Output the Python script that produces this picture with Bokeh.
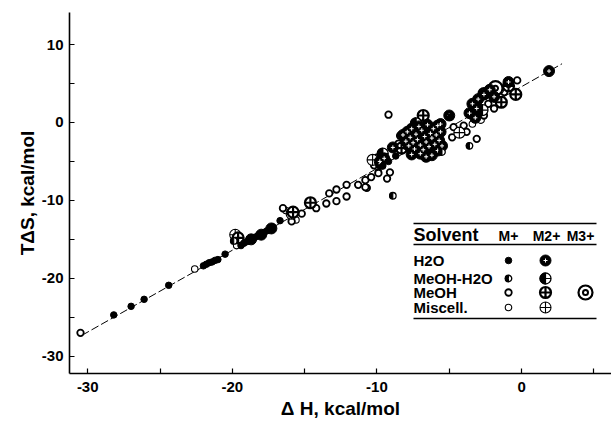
import math
from bokeh.plotting import figure
from bokeh.models import FixedTicker, Range1d, CustomJSTickFormatter
from bokeh.core.properties import value
from bokeh.embed import file_html
from bokeh.resources import INLINE

# ---------------- data (ΔH, TΔS in kcal/mol) ----------------
h2o_m1_x = [-28.2, -27.0, -26.1, -24.4, -22.0, -21.8, -21.6, -21.4, -21.2, -21.0, -20.5,
            -19.4, -19.2, -19.0, -18.8, -18.6, -18.4, -18.2, -18.0, -17.8, -17.6, -17.4,
            -17.2, -16.7, -9.6, -9.2, -8.7, -4.9]
h2o_m1_y = [-24.7, -23.6, -22.7, -20.9, -18.4, -18.2, -18.0, -17.9, -17.7, -17.6, -16.9,
            -15.8, -15.5, -15.3, -15.1, -14.9, -14.7, -14.5, -14.3, -14.1, -13.9, -13.7,
            -13.4, -12.6, -5.6, -5.0, -4.3, 0.7]

meohh2o_m1_x = [-19.9, -8.9, -5.5, -3.6]
meohh2o_m1_y = [-15.2, -9.4, -3.8, -3.0]

meoh_m1_x = [-30.5, -16.5, -15.9, -15.2, -14.2, -13.5, -13.3, -12.8, -12.8, -12.1, -12.1,
             -11.3, -10.8, -10.7, -10.2, -9.9, -9.2, -10.0, -9.3, -10.4, -10.8, -8.5,
             -8.4, -4.7, -4.0, -3.8, -4.8, -3.1, -2.6, -3.3, -0.5, -1.2, -1.9, -1.7,
             -2.3, -0.3, -4.2, -9.1]
meoh_m1_y = [-27.0, -11.0, -12.7, -11.7, -11.0, -10.4, -9.1, -8.6, -10.1, -8.0, -9.5,
             -8.0, -7.4, -8.4, -5.5, -6.5, 1.0, -4.5, -7.2, -7.0, -8.3, -2.7,
             -1.7, -0.6, -0.4, -1.2, -1.9, -2.1, 0.9, 1.1, 3.7, 3.9, 1.8, 3.9,
             2.4, 5.4, -1.5, -6.4]

misc_m1_x = [-22.6, -19.7, -16.3, -15.6, -9.9, -3.4, -2.8]
misc_m1_y = [-18.8, -15.8, -11.3, -12.5, -6.4, -0.2, 0.3]

h2o_m2_x = [-8.2, -8.0, -7.9, -7.8, -7.7, -7.6, -7.5, -7.4, -7.3, -7.2, -7.1, -7.0, -7.0,
            -6.9, -6.8, -6.7, -6.6, -6.5, -6.4, -6.3, -6.2, -6.2, -6.1, -6.0, -5.9, -5.8,
            -5.8, -5.7, -5.6, -5.6, -5.5, -7.6, -6.6, -5.0, 1.9, -0.9, -3.1, -3.4, -3.0,
            -2.6, -2.2, -1.9, -3.6, -3.2, -9.75, -8.9, -9.8, -9.5, -18.7, -18.0, -17.3]
h2o_m2_y = [-1.6, -2.4, -1.2, -3.0, -1.9, -0.8, -2.6, -3.4, -1.5, -2.2, -0.5, -4.0, -2.9,
            -1.0, -3.5, -1.8, -2.5, -0.3, -3.1, -1.4, -4.2, -2.0, -0.8, -2.8, -1.6, -3.6,
            -0.4, -2.3, -0.2, -1.2, -3.0, -4.1, -4.4, 0.9, 6.6, 5.2, 1.8, 2.4, 3.0,
            3.6, 4.2, 3.3, 1.2, 0.6, -5.3, -3.2, -5.0, -4.6, -15.0, -14.4, -13.6]

meohh2o_m2_x = [-9.6, -7.3, -2.7]
meohh2o_m2_y = [-4.0, -0.1, 1.6]

meoh_m2_x = [-6.8, -14.6, -15.8, -19.6, -2.6, -1.4, -0.4, -8.3, -0.9]
meoh_m2_y = [0.9, -10.3, -11.5, -14.8, 3.7, 2.6, 3.6, -3.3, 4.7]

misc_m2_x = [-19.8, -15.9, -10.3, -4.3, -1.6]
misc_m2_y = [-14.4, -11.7, -4.8, -1.3, 4.3]

meoh_m3_x = [-1.8]
meoh_m3_y = [4.4]

fit_x = [-30.4, 2.8]
fit_slope = 1.05
fit_icpt = 4.6

x_major = [-30, -20, -10, 0]
x_minor = [-25, -15, -5, 5]
y_major = [-30, -20, -10, 0, 10]
y_minor = [-25, -15, -5, 5]

x_title = "Δ H, kcal/mol"
y_title = "TΔS, kcal/mol"
legend_rows = ["H2O", "MeOH-H2O", "MeOH", "Miscell."]
legend_cols = ["M+", "M2+", "M3+"]

# ---------------- figure ----------------
XS, XE = -31.26, 6.22
YS, YE = -32.22, 14.12
FL, FT, FW, FH = 69, 12, 542, 361


def px2x(px):
    return XS + (px - FL) / FW * (XE - XS)


def py2y(py):
    return YE - (py - FT) / FH * (YE - YS)


p = figure(width=611, height=421, output_backend="svg", toolbar_location=None,
           x_range=Range1d(XS, XE), y_range=Range1d(YS, YE),
           min_border_left=FL, min_border_right=0, min_border_top=FT,
           min_border_bottom=421 - FT - FH)
p.outline_line_color = None
p.grid.visible = False
p.background_fill_color = "white"
p.border_fill_color = "white"

FONT = "Liberation Sans"
for ax, maj, mnr in ((p.xaxis[0], x_major, x_minor), (p.yaxis[0], y_major, y_minor)):
    ax.ticker = FixedTicker(ticks=maj, minor_ticks=mnr)
    ax.formatter = CustomJSTickFormatter(code="return tick.toFixed(0);")
    ax.major_tick_in = 5
    ax.major_tick_out = 0
    ax.minor_tick_in = 5
    ax.minor_tick_out = 0
    ax.axis_line_width = 1.6
    ax.major_tick_line_width = 1.2
    ax.minor_tick_line_width = 1.2
    ax.major_label_text_font = FONT
    ax.major_label_text_font_style = "bold"
    ax.major_label_text_font_size = "15px"
    ax.major_label_text_color = "black"
    ax.axis_label_text_font = FONT
    ax.axis_label_text_font_style = "bold"
    ax.axis_label_text_font_size = "19px"
    ax.axis_label_text_color = "black"

p.xaxis.axis_label = x_title
p.yaxis.axis_label = y_title
p.xaxis.major_label_standoff = 8
p.xaxis.axis_label_standoff = 3
p.yaxis.major_label_standoff = 6
p.yaxis.axis_label_standoff = 1

# regression line
fit_y = [fit_slope * v + fit_icpt for v in fit_x]
p.line(fit_x, fit_y, line_color="black", line_width=1, line_dash="8 3")


def half_filled(xs, ys, size):
    p.scatter(xs, ys, marker="circle", size=size, fill_color="white",
              line_color="black", line_width=1.3)
    p.wedge(xs, ys, radius=size / 2.0, radius_units="screen",
            start_angle=math.pi / 2, end_angle=3 * math.pi / 2,
            fill_color="black", line_color="black")


def draw_m1(kind, xs, ys):
    if kind == "H2O":
        p.scatter(xs, ys, marker="circle", size=6.5, fill_color="black",
                  line_color="black")
    elif kind == "MeOH-H2O":
        half_filled(xs, ys, 6.5)
    elif kind == "MeOH":
        p.scatter(xs, ys, marker="circle", size=6.5, fill_color="white",
                  line_color="black", line_width=1.8)
    else:
        p.scatter(xs, ys, marker="circle", size=6.5, fill_color="white",
                  line_color="black", line_width=1.1)


def draw_m2(kind, xs, ys):
    if kind == "H2O":
        p.scatter(xs, ys, marker="circle", size=11, fill_color="black",
                  line_color="black")
        p.scatter(xs, ys, marker="cross", size=4, line_color="white", line_width=1.0)
    elif kind == "MeOH-H2O":
        half_filled(xs, ys, 11)
        p.scatter(xs, ys, marker="cross", size=11, line_color="black", line_width=1.2)
    elif kind == "MeOH":
        p.scatter(xs, ys, marker="circle_cross", size=11, fill_color="white",
                  line_color="black", line_width=2.2)
    else:
        p.scatter(xs, ys, marker="circle_cross", size=11, fill_color="white",
                  line_color="black", line_width=1.1)


def draw_m3(xs, ys):
    p.scatter(xs, ys, marker="circle", size=14, fill_color="white",
              line_color="black", line_width=2.2)
    p.scatter(xs, ys, marker="circle", size=5, fill_color="white",
              line_color="black", line_width=2.0)


draw_m1("Miscell.", misc_m1_x, misc_m1_y)
draw_m1("MeOH", meoh_m1_x, meoh_m1_y)
draw_m2("Miscell.", misc_m2_x, misc_m2_y)
draw_m2("MeOH", meoh_m2_x, meoh_m2_y)
draw_m3(meoh_m3_x, meoh_m3_y)
draw_m2("MeOH-H2O", meohh2o_m2_x, meohh2o_m2_y)
draw_m2("H2O", h2o_m2_x, h2o_m2_y)
draw_m1("MeOH-H2O", meohh2o_m1_x, meohh2o_m1_y)
draw_m1("H2O", h2o_m1_x, h2o_m1_y)

# ---------------- legend table ----------------
LX0, LX1 = 413, 596
p.segment(x0=[px2x(LX0)] * 3, x1=[px2x(LX1)] * 3,
          y0=[py2y(223), py2y(244), py2y(318)], y1=[py2y(223), py2y(244), py2y(318)],
          line_color="black", line_width=1.5)
p.text(x=[px2x(LX0)], y=[py2y(234)], text=["Solvent"], text_font=value(FONT),
       text_font_style="bold", text_font_size="18px", text_baseline="middle",
       text_align="left", text_color="black")
col_px = [508, 546, 580]
p.text(x=[px2x(c) for c in col_px], y=[py2y(235)] * 3, text=legend_cols,
       text_font=value(FONT), text_font_style="bold", text_font_size="14px",
       text_baseline="middle", text_align="center", text_color="black")
row_py = [260, 278, 292, 307]
p.text(x=[px2x(LX0)] * 4, y=[py2y(r) for r in row_py], text=legend_rows,
       text_font=value(FONT), text_font_style="bold", text_font_size="15px",
       text_baseline="middle", text_align="left", text_color="black")
for name, r in zip(legend_rows, row_py):
    draw_m1(name, [px2x(508)], [py2y(r)])
    draw_m2(name, [px2x(545)], [py2y(r)])
draw_m3([px2x(585)], [py2y(292)])

open("out.html", "w").write(file_html(p, INLINE))
